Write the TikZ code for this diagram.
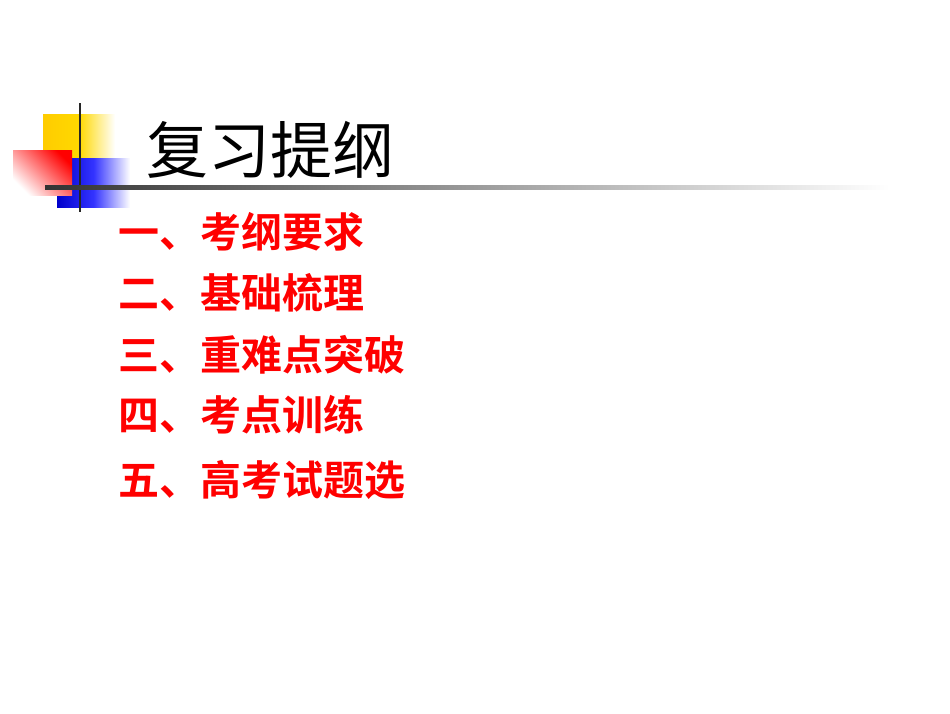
\documentclass[tikz,border=0pt]{standalone}
\usepackage{fontspec}
\newfontfamily\cjk{Noto Sans CJK SC}
\newfontfamily\cjkb{Noto Sans CJK SC Bold}
\begin{document}
\begin{tikzpicture}[x=1pt,y=-1pt,
  item/.style={anchor=west,text=red,font=\cjkb\fontsize{41}{41}\selectfont,inner sep=0}]
\useasboundingbox (0,0) rectangle (950,713);
\fill[white] (0,0) rectangle (950,713);
\shade[left color=yellow!60!orange,right color=white,middle color=yellow!70!orange] (43,114) rectangle (115,158);
\shade[left color=blue!80!black,right color=white,middle color=blue!80] (57,158) rectangle (130,207);
\shade[top color=red,bottom color=white,shading angle=-45] (13,150) rectangle (72,195);
\draw[line width=2pt,black!85] (80,103) -- (80,212);
\shade[left color=black!80,right color=white] (45,185.5) rectangle (890,189);
\node[anchor=west,inner sep=0,font=\cjk\fontsize{62}{62}\selectfont] (title) at (146,150) {复习提纲};
\node[item] (i1) at (118,232) {一、考纲要求};
\node[item] (i2) at (118,293) {二、基础梳理};
\node[item] (i3) at (118,355) {三、重难点突破};
\node[item] (i4) at (118,415) {四、考点训练};
\node[item] (i5) at (118,480) {五、高考试题选};
\end{tikzpicture}
\end{document}
